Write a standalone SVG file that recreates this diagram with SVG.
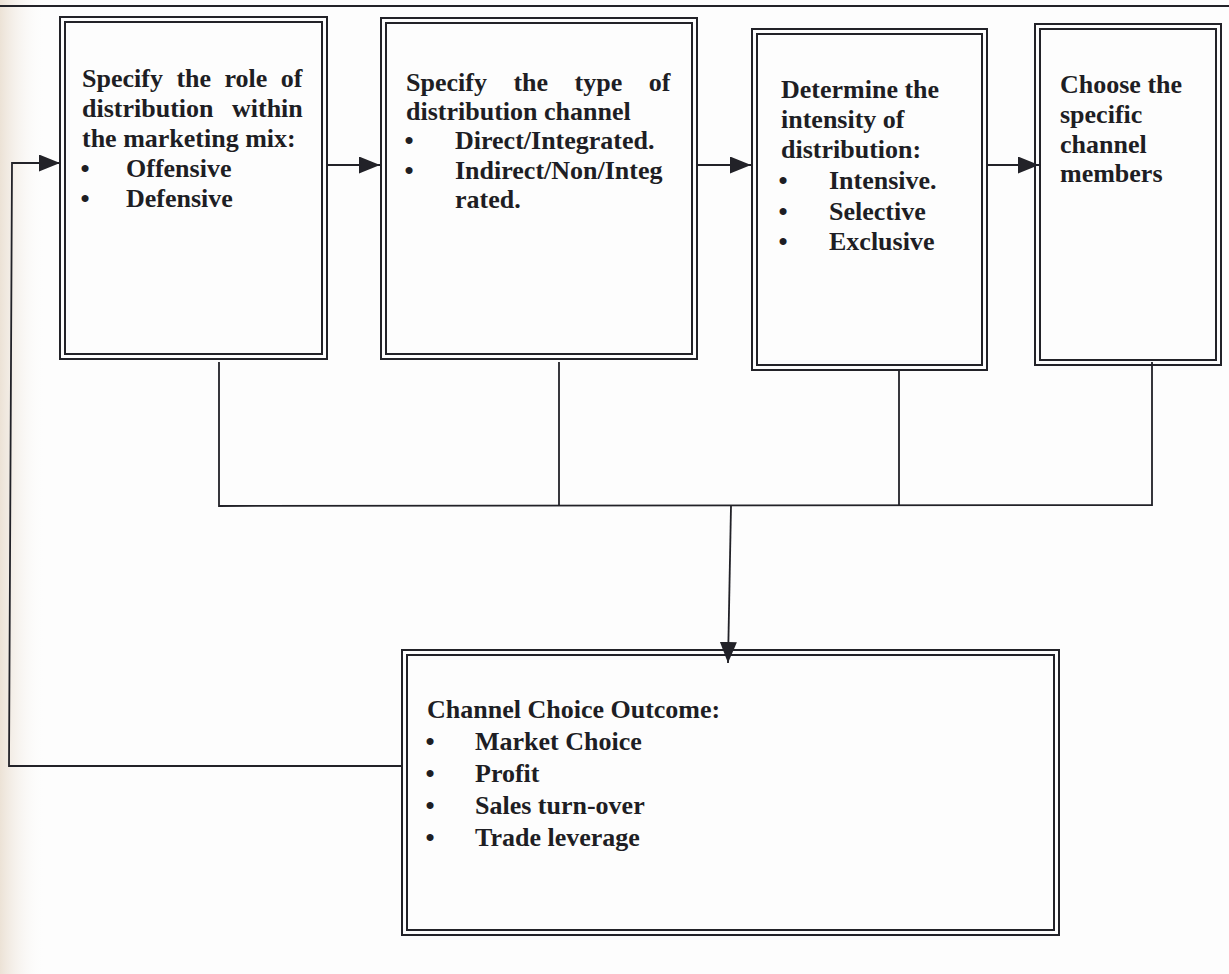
<svg xmlns="http://www.w3.org/2000/svg" width="1229" height="974" viewBox="0 0 1229 974">
<style>
.bg{fill:#fdfdfd}
.o{fill:none;stroke:#222228;stroke-width:2}
.ln{fill:none;stroke:#222228;stroke-width:1.8}
.t{font-family:"Liberation Serif","Times New Roman",serif;font-weight:bold;font-size:26px;fill:#1e1e24}
</style>
<defs>
<marker id="ah" markerUnits="userSpaceOnUse" markerWidth="22" markerHeight="18" refX="21" refY="8.5" orient="auto">
<path d="M0,0 L21,8.5 L0,17 Z" fill="#222228"/>
</marker>
<linearGradient id="edge" x1="0" y1="0" x2="1" y2="0">
<stop offset="0" stop-color="#ece2d6"/>
<stop offset="1" stop-color="#fdfdfd" stop-opacity="0"/>
</linearGradient>
</defs>
<rect class="bg" x="0" y="0" width="1229" height="974"/>
<rect x="0" y="0" width="45" height="974" fill="url(#edge)"/>
<line class="ln" x1="0" y1="6" x2="1229" y2="6"/>

<g id="connectors">
<polyline class="ln" points="402,766 9,766 12,163 60,163" marker-end="url(#ah)"/>
<line class="ln" x1="327" y1="165" x2="380" y2="165" marker-end="url(#ah)"/>
<line class="ln" x1="697" y1="165" x2="751" y2="165" marker-end="url(#ah)"/>
<line class="ln" x1="987" y1="165" x2="1039" y2="165" marker-end="url(#ah)"/>
<polyline class="ln" points="219,362 219,506 1152,505 1152,362"/>
<line class="ln" x1="559" y1="362" x2="559" y2="506"/>
<line class="ln" x1="899" y1="370" x2="899" y2="505"/>
<line class="ln" x1="731" y1="506" x2="728" y2="663" marker-end="url(#ah)"/>
</g>

<g id="node-role">
<rect class="o" x="60" y="17" width="267" height="342"/>
<rect class="o" x="65" y="22" width="257" height="332"/>
<text class="t" x="82" y="87" word-spacing="7">Specify the role of</text>
<text class="t" x="82" y="117" word-spacing="12">distribution within</text>
<text class="t" x="82" y="147">the marketing mix:</text>
<text class="t" y="177"><tspan x="80.5">•</tspan><tspan x="126">Offensive</tspan></text>
<text class="t" y="207"><tspan x="80.5">•</tspan><tspan x="126">Defensive</tspan></text>
</g>

<g id="node-type">
<rect class="o" x="381" y="18" width="316" height="341"/>
<rect class="o" x="386" y="23" width="306" height="331"/>
<text class="t" x="406" y="91" word-spacing="20">Specify the type of</text>
<text class="t" x="406" y="120">distribution channel</text>
<text class="t" y="149"><tspan x="404.5">•</tspan><tspan x="455">Direct/Integrated.</tspan></text>
<text class="t" y="179"><tspan x="404.5">•</tspan><tspan x="455">Indirect/Non/Integ</tspan></text>
<text class="t" x="455" y="208">rated.</text>
</g>

<g id="node-intensity">
<rect class="o" x="752" y="29" width="235" height="341"/>
<rect class="o" x="757" y="34" width="225" height="331"/>
<text class="t" x="781" y="98">Determine the</text>
<text class="t" x="781" y="128">intensity of</text>
<text class="t" x="781" y="158">distribution:</text>
<text class="t" y="189"><tspan x="778.5">•</tspan><tspan x="829">Intensive.</tspan></text>
<text class="t" y="220"><tspan x="778.5">•</tspan><tspan x="829">Selective</tspan></text>
<text class="t" y="250"><tspan x="778.5">•</tspan><tspan x="829">Exclusive</tspan></text>
</g>

<g id="node-members">
<rect class="o" x="1035" y="24" width="186" height="341"/>
<rect class="o" x="1040" y="29" width="176" height="331"/>
<text class="t" x="1060" y="93">Choose the</text>
<text class="t" x="1060" y="123">specific</text>
<text class="t" x="1060" y="153">channel</text>
<text class="t" x="1060" y="182">members</text>
</g>

<g id="node-outcome">
<rect class="o" x="402" y="650" width="657" height="285"/>
<rect class="o" x="407" y="655" width="647" height="275"/>
<text class="t" x="427" y="718">Channel Choice Outcome:</text>
<text class="t" y="750"><tspan x="425.5">•</tspan><tspan x="475">Market Choice</tspan></text>
<text class="t" y="782"><tspan x="425.5">•</tspan><tspan x="475">Profit</tspan></text>
<text class="t" y="814"><tspan x="425.5">•</tspan><tspan x="475">Sales turn-over</tspan></text>
<text class="t" y="846"><tspan x="425.5">•</tspan><tspan x="475">Trade leverage</tspan></text>
</g>
</svg>
